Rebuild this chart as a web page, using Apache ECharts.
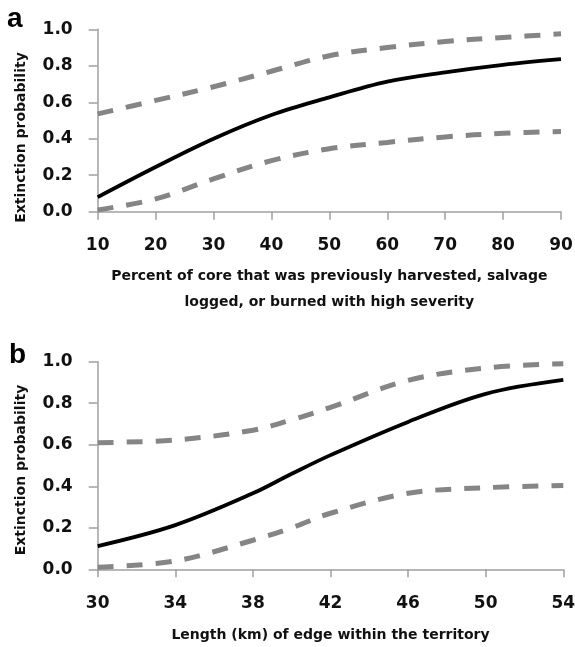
<!DOCTYPE html>
<html><head><meta charset="utf-8">
<script src="https://cdn.jsdelivr.net/npm/echarts@6/dist/echarts.min.js"></script>
<style>html,body{margin:0;padding:0;background:#fff}#c{width:575px;height:647px}</style>
</head><body><div id="c"></div>
<script>
// Panel a: percent of core previously harvested / salvage logged / burned
const xA = [10, 20, 30, 40, 50, 60, 70, 80, 90];
const meanA = [0.08, 0.245, 0.40, 0.53, 0.627, 0.713, 0.764, 0.805, 0.836];
const upperA = [0.536, 0.61, 0.685, 0.77, 0.855, 0.90, 0.933, 0.955, 0.975];
const lowerA = [0.01, 0.07, 0.18, 0.28, 0.345, 0.38, 0.41, 0.43, 0.44];
// Panel b: length (km) of edge within the territory
const xB = [30, 34, 38, 40, 42, 46, 50, 54];
const meanB = [0.112, 0.213, 0.366, 0.46, 0.55, 0.71, 0.845, 0.912];
const upperB = [0.61, 0.623, 0.67, 0.72, 0.78, 0.91, 0.97, 0.99];
const lowerB = [0.01, 0.04, 0.14, 0.20, 0.27, 0.366, 0.393, 0.404];
const yTicks = [0.0, 0.2, 0.4, 0.6, 0.8, 1.0];
const yName = 'Extinction probability';
const xNameA = 'Percent of core that was previously harvested, salvage\nlogged, or burned with high severity';
const xNameB = 'Length (km) of edge within the territory';

const FONT = 'DejaVu Sans';
const axisCol = '#a0a0a0';
function pairs(x, y) { return x.map((v, i) => [v, y[i]]); }

function yAxis(gi) {
  return {
    type: 'value', gridIndex: gi, min: 0, max: 1, interval: 0.2,
    axisLine: { show: true, lineStyle: { color: axisCol, width: 1.5 } },
    axisTick: { show: true, length: 9, lineStyle: { color: axisCol, width: 1.5 } },
    splitLine: { show: false },
    axisLabel: { fontFamily: FONT, fontWeight: 'bold', fontSize: 17, color: '#111', margin: 25,
      formatter: v => yTicks.includes(+v.toFixed(1)) ? v.toFixed(1) : '' }
  };
}
function xAxis(gi, min, max, interval, name, gap, margin) {
  return {
    type: 'value', gridIndex: gi, min: min, max: max, interval: interval,
    name: name, nameLocation: 'middle', nameGap: gap,
    nameTextStyle: { fontFamily: FONT, fontWeight: 'bold', fontSize: 14, color: '#111', lineHeight: 25.6 },
    axisLine: { show: true, lineStyle: { color: axisCol, width: 1.5 } },
    axisTick: { show: true, length: 8, lineStyle: { color: axisCol, width: 1.5 } },
    splitLine: { show: false },
    axisLabel: { fontFamily: FONT, fontWeight: 'bold', fontSize: 17, color: '#111', margin: margin }
  };
}
function mean(gi, x, y) {
  return { type: 'line', xAxisIndex: gi, yAxisIndex: gi, data: pairs(x, y), smooth: 0.35,
    showSymbol: false, lineStyle: { color: '#000', width: 3.8 } };
}
function dashed(gi, x, y) {
  return { type: 'line', xAxisIndex: gi, yAxisIndex: gi, data: pairs(x, y), smooth: 0.35,
    showSymbol: false, lineStyle: { color: '#858585', width: 5, type: [16, 13] } };
}
function vText(x, y, text) {
  return { type: 'text', x: x, y: y, rotation: Math.PI / 2,
    style: { text: text, fontFamily: FONT, fontWeight: 'bold', fontSize: 14, fill: '#111',
      align: 'center', verticalAlign: 'middle', textAlign: 'center', textVerticalAlign: 'middle' } };
}
function letter(x, y, text) {
  return { type: 'text', x: x, y: y,
    style: { text: text, fontFamily: 'Liberation Sans', fontWeight: 'bold', fontSize: 28, fill: '#000',
      align: 'left', verticalAlign: 'middle', textAlign: 'left', textVerticalAlign: 'middle' } };
}

const chart = echarts.init(document.getElementById('c'), null, { renderer: 'canvas' });
chart.setOption({
  animation: false,
  grid: [
    { left: 97.7, top: 29.3, width: 463.3, height: 182.4, outerBoundsMode: 'none', containLabel: false },
    { left: 97.7, top: 361.7, width: 465.6, height: 207.6, outerBoundsMode: 'none', containLabel: false }
  ],
  xAxis: [
    xAxis(0, 10, 90, 10, xNameA, 52, 25),
    xAxis(1, 30, 54, 4, xNameB, 53, 26)
  ],
  yAxis: [yAxis(0), yAxis(1)],
  graphic: [
    letter(7, 19, 'a'),
    letter(9, 355, 'b'),
    vText(21.7, 137.5, yName),
    vText(21.7, 470, yName)
  ],
  series: [
    dashed(0, xA, upperA), dashed(0, xA, lowerA), mean(0, xA, meanA),
    dashed(1, xB, upperB), dashed(1, xB, lowerB), mean(1, xB, meanB)
  ]
});
</script>
</body></html>
